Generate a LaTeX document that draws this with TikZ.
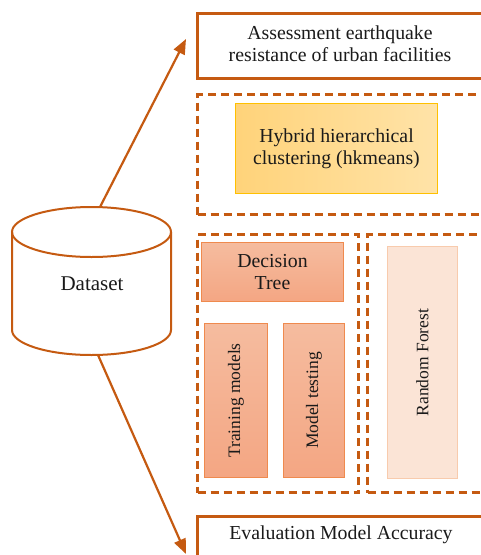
\documentclass[tikz,border=0pt]{standalone}
\usepackage{fontspec}
\setmainfont{Liberation Serif}
\usetikzlibrary{arrows.meta}
\definecolor{rust}{HTML}{C55A11}
\definecolor{txt}{HTML}{1A1A1A}
\definecolor{yelL}{HTML}{FFD37A}
\definecolor{yelR}{HTML}{FFE3A8}
\definecolor{yelB}{HTML}{FFC000}
\definecolor{salT}{HTML}{F5BC9F}
\definecolor{salB}{HTML}{F4A683}
\definecolor{salBorder}{HTML}{EF8A4E}
\definecolor{paleF}{HTML}{FBE4D6}
\definecolor{paleB}{HTML}{F8CBAD}
\begin{document}
\begin{tikzpicture}[x=1pt,y=-1pt,
  txtf/.style={text=txt,font=\fontsize{19.8}{22}\selectfont,align=center},
  vtxt/.style={text=txt,font=\fontsize{17.5}{21}\selectfont,rotate=90,inner sep=0pt},
  solidbox/.style={draw=rust,line width=3pt,anchor=north west,inner sep=0pt},
  dashbox/.style={draw=rust,line width=3pt,dash pattern=on 8pt off 5pt,anchor=north west,inner sep=0pt},
  yelbox/.style={draw=yelB,line width=1pt,left color=yelL,right color=yelR,anchor=north west,inner sep=0pt},
  salbox/.style={draw=salBorder,line width=1pt,top color=salT,bottom color=salB,anchor=north west,inner sep=0pt},
  palebox/.style={draw=paleB,line width=1pt,fill=paleF,anchor=north west,inner sep=0pt},
  arr/.style={draw=rust,line width=2.2pt,-{Triangle[length=15pt,width=12pt]}}
]
\useasboundingbox (0,0) rectangle (481,555);
\clip (0,0) rectangle (481,555);
\fill[white] (0,0) rectangle (481,555);

% top box
\node[solidbox,minimum width=290pt,minimum height=65pt] (assess) at (196,12) {};
\node[txtf] (assessT) at (340,44) {Assessment earthquake\\resistance of urban facilities};

% dashed box with hybrid clustering
\node[dashbox,minimum width=300pt,minimum height=120pt] (clusterGrp) at (196,93) {};
\node[yelbox,minimum width=202pt,minimum height=90pt] (hybrid) at (235,103) {};
\node[txtf] (hybridT) at (hybrid.center) {Hybrid hierarchical\\clustering (hkmeans)};

% left dashed group
\node[dashbox,minimum width=161pt,minimum height=258pt] (dtGrp) at (196,233) {};
\node[salbox,minimum width=142pt,minimum height=59pt] (dt) at (201,242) {};
\node[txtf] (dtT) at (dt.center) {Decision\\Tree};
\node[salbox,minimum width=63pt,minimum height=154pt] (train) at (204,323) {};
\node[vtxt] (trainT) at (train.center) {Training models};
\node[salbox,minimum width=61pt,minimum height=154pt] (test) at (283,323) {};
\node[vtxt] (testT) at (test.center) {Model testing};

% right dashed group
\node[dashbox,minimum width=140pt,minimum height=258pt] (rfGrp) at (366,233) {};
\node[palebox,minimum width=70pt,minimum height=232pt] (rf) at (387,246) {};
\node[vtxt] (rfT) at (rf.center) {Random Forest};

% bottom box
\node[solidbox,minimum width=290pt,minimum height=60pt] (evalbox) at (196,515) {};
\node[txtf] (evalT) at (341,535) {Evaluation Model Accuracy};

% cylinder
\fill[white] (12,232) -- (12,330) arc[start angle=180,end angle=360,x radius=79.5pt,y radius=25pt] -- (171,232) -- cycle;
\draw[rust,line width=2pt] (12,232) -- (12,330) arc[start angle=180,end angle=360,x radius=79.5pt,y radius=25pt] -- (171,232);
\draw[rust,line width=2pt] (91.5,232) ellipse[x radius=79.5pt,y radius=25pt];
\node[text=txt,font=\fontsize{21}{24}\selectfont] (dataset) at (92,284) {Dataset};

% arrows
\coordinate (upStart) at (100,207);
\coordinate (upTip) at (186,39);
\coordinate (downStart) at (98,355);
\coordinate (downTip) at (186,554);
\draw[arr] (upStart) -- (upTip);
\draw[arr] (downStart) -- (downTip);
\end{tikzpicture}
\end{document}
